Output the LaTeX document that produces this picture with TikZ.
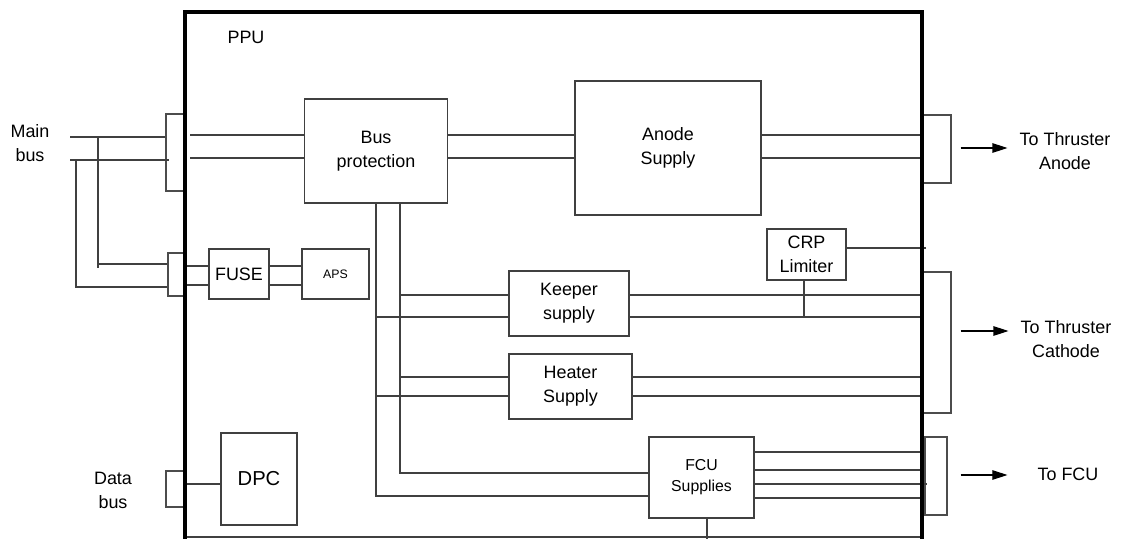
\documentclass[tikz,border=0pt]{standalone}
\usepackage{fontspec}
\setmainfont{Liberation Sans}
\usetikzlibrary{arrows.meta,positioning}
\tikzset{
  >={Triangle[length=3mm,width=1.9mm]},
  blk/.style={draw=black!75,line width=0.6pt,align=center,inner sep=1pt,
    font=\fontsize{10.2}{13.6}\selectfont},
  port/.style={draw=black!70,line width=0.6pt,inner sep=0pt},
  wire/.style={draw=black!75,line width=0.6pt},
  frame/.style={draw=black,line width=1.8pt},
  tag/.style={align=center,font=\fontsize{10.2}{13.6}\selectfont},
  arr/.style={->,draw=black,line width=0.6pt},
}
\begin{document}
\begin{tikzpicture}[x=0.2mm,y=-0.2mm]
  \useasboundingbox (0,0) rectangle (1137,539);
  % frame edges
  \coordinate (fl) at (185,0);
  \coordinate (fr) at (922,0);
  % ports on the frame
  \node[port,minimum width=3.8mm,minimum height=15.4mm] (pmain) at (175.5,152.5) {};
  \node[port,minimum width=3.4mm,minimum height=8.6mm] (paux) at (176.5,274.5) {};
  \node[port,minimum width=3.8mm,minimum height=7.2mm] (pdata) at (175.5,489) {};
  \node[port,minimum width=5.8mm,minimum height=13.6mm] (panode) at (936.5,149) {};
  \node[port,minimum width=5.8mm,minimum height=28.2mm] (pcath) at (936.5,342.5) {};
  \node[port,minimum width=4.4mm,minimum height=15.6mm] (pfcu) at (936,476) {};
  % blocks
  \node[blk,minimum width=28.6mm,minimum height=20.8mm] (bp) at (376,151) {Bus\\protection};
  \node[blk,minimum width=37.2mm,minimum height=26.8mm] (anode) at (668,148) {Anode\\Supply};
  \node[blk,minimum width=12mm,minimum height=10mm] (fuse) at (239,274) {FUSE};
  \node[blk,minimum width=13.4mm,minimum height=10mm,font=\fontsize{7}{9}\selectfont] (aps) at (335.5,274) {APS};
  \node[blk,minimum width=24mm,minimum height=13mm] (keeper) at (569,303.5) {Keeper\\supply};
  \node[blk,minimum width=24.6mm,minimum height=13mm] (heater) at (570.5,386.5) {Heater\\Supply};
  \node[blk,minimum width=15.8mm,minimum height=10.2mm] (crp) at (806.5,254.5) {CRP\\Limiter};
  \node[blk,minimum width=21mm,minimum height=16.2mm,font=\fontsize{9}{12}\selectfont] (fcu) at (701.5,477.5) {FCU\\Supplies};
  \node[blk,minimum width=15.2mm,minimum height=18.4mm,font=\fontsize{11.5}{14}\selectfont] (dpc) at (259,479) {DPC};
  % texts
  \node[tag] (ppu) at (246,37) {PPU};
  \node[tag] (mainbus) at (30,143) {Main\\bus};
  \node[tag] (databus) at (113,490) {Data\\bus};
  \node[tag] (tanode) at (1065,151) {To Thruster\\Anode};
  \node[tag] (tcath) at (1066,339) {To Thruster\\Cathode};
  \node[tag] (tfcu) at (1068,474) {To FCU};
  % main bus outside
  \coordinate (mb1) at (70,137);
  \coordinate (mb2) at (70,160);
  \coordinate (j1) at (98,137);
  \coordinate (j2) at (76,160);
  \draw[wire] (mb1) -- (pmain.west |- mb1);
  \draw[wire] (mb2) -- ([xshift=0.8mm]pmain.west |- mb2);
  \draw[wire] (j1) -- (j1 |- 0,268);
  \draw[wire] (j1 |- 0,264) -- (paux.west |- 0,264);
  \draw[wire] (j2) |- (paux.west |- 0,287);
  % bus protection and anode
  \foreach \y in {135,158} {
    \draw[wire] ([xshift=1mm]fl |- 0,\y) -- (bp.west |- 0,\y);
    \draw[wire] (bp.east |- 0,\y) -- (anode.west |- 0,\y);
    \draw[wire] (anode.east |- 0,\y) -- (fr |- 0,\y);
  }
  % fuse and aps
  \foreach \y in {266,285} {
    \draw[wire] (fl |- 0,\y) -- (fuse.west |- 0,\y);
    \draw[wire] (fuse.east |- 0,\y) -- (aps.west |- 0,\y);
  }
  % distribution from bus protection
  \coordinate (v2) at ([xshift=4.8mm]bp.south);
  \draw[wire] (bp.south) |- (fcu.west |- 0,496);
  \draw[wire] (v2) |- (fcu.west |- 0,473);
  \draw[wire] (v2 |- 0,295) -- (keeper.west |- 0,295);
  \draw[wire] (bp.south |- 0,317) -- (keeper.west |- 0,317);
  \draw[wire] (v2 |- 0,377) -- (heater.west |- 0,377);
  \draw[wire] (bp.south |- 0,396) -- (heater.west |- 0,396);
  % cathode side
  \foreach \y in {295,317} \draw[wire] (keeper.east |- 0,\y) -- (fr |- 0,\y);
  \foreach \y in {377,396} \draw[wire] (heater.east |- 0,\y) -- (fr |- 0,\y);
  \draw[wire] ([xshift=-0.5mm]crp.south) -- ([xshift=-0.5mm]crp.south |- 0,317);
  \draw[wire] (crp.east |- 0,248) -- ([xshift=0.8mm]fr |- 0,248);
  % fcu outputs
  \foreach \y in {452,470,498} \draw[wire] (fcu.east |- 0,\y) -- (fr |- 0,\y);
  \draw[wire] (fcu.east |- 0,484) -- ([xshift=1mm]fr |- 0,484);
  \draw[wire] ([xshift=1.1mm]fcu.south) -- ([xshift=1.1mm]fcu.south |- 0,539);
  % data bus
  \draw[wire] (fl |- 0,484) -- (dpc.west |- 0,484);
  % PPU frame
  \draw[wire] (fl |- 0,537) -- (fr |- 0,537);
  \draw[frame] (fl |- 0,539) -- (fl |- 0,12) -- (fr |- 0,12) -- (fr |- 0,539);
  % outputs
  \draw[arr,shorten <=1.8mm,shorten >=1.2mm] (panode.east |- 0,148) -- (tanode.west |- 0,148);
  \draw[arr,shorten <=1.8mm,shorten >=1.2mm] (pcath.east |- 0,331) -- (tcath.west |- 0,331);
  \draw[arr,shorten <=2.6mm,shorten >=4.8mm] (pfcu.east |- 0,475) -- (tfcu.west |- 0,475);
\end{tikzpicture}
\end{document}
